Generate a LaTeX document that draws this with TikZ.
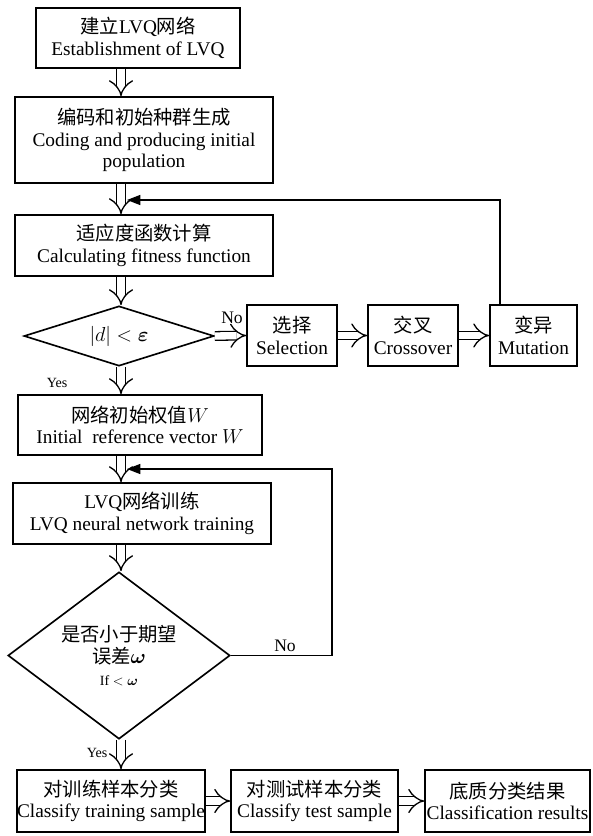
\documentclass[tikz,border=0pt]{standalone}
\usepackage{amsmath}
\usepackage{fontspec}
\setmainfont{Liberation Serif}
\newfontfamily\cjk{Noto Sans CJK SC}
\usetikzlibrary{arrows.meta}
\usetikzlibrary{shapes.geometric}

\newcommand{\zh}[1]{{\cjk #1}}
\tikzset{
  box/.style={draw, line width=1.4pt, inner sep=0pt, align=center,
    font=\fontsize{16.5}{18.5}\selectfont},
  cond/.style={diamond, draw, line width=1.4pt, inner sep=0pt, align=center,
    font=\fontsize{16.5}{19}\selectfont},
  dbl/.style={double, double distance=0.22cm, line width=1.1pt, -{Implies[scale=1.5]}},
  back/.style={line width=1.2pt, -{Triangle[length=0.4cm,width=0.3cm]}},
  lbl/.style={inner sep=0pt, font=\fontsize{15}{15}\selectfont},
  small/.style={inner sep=0pt, font=\fontsize{12}{12}\selectfont}
}

\begin{document}
\begin{tikzpicture}[x=0.03cm, y=-0.03cm]
      \useasboundingbox (0,0) rectangle (593,836);
      \coordinate (m) at (121,0);

      % main column
      \node[box, minimum width=6.12cm, minimum height=1.8cm] (b1) at (138,38)
        {\zh{建立}LVQ\zh{网络}\\Establishment of LVQ};
      \node[box, minimum width=7.74cm, minimum height=2.58cm] (b2) at (144,140)
        {\zh{编码和初始种群生成}\\Coding and producing initial\\population};
      \node[box, minimum width=7.74cm, minimum height=1.83cm] (b3) at (144,245.5)
        {\zh{适应度函数计算}\\Calculating fitness function};
      \node[cond, aspect=3, minimum width=5.7cm, minimum height=1.8cm] (d1) at (119,336)
        {$|d| < \boldsymbol{\varepsilon}$};
      \node[box, minimum width=7.32cm, minimum height=1.8cm] (b4) at (140,425)
        {\zh{网络初始权值}$W$\\Initial\ \ reference vector $W$};
      \node[box, minimum width=7.74cm, minimum height=1.83cm] (b5) at (142,513.5)
        {LVQ\zh{网络训练}\\LVQ neural network training};
      \node[cond, aspect=1.33, minimum width=6.66cm, minimum height=5.01cm] (d2) at (119,655.5)
        {\zh{是否小于期望}\\\zh{误差}$\boldsymbol{\omega}$\\{\fontsize{12}{12}\selectfont If $<\boldsymbol{\omega}$}};

      % GA row
      \node[box, minimum width=2.7cm, minimum height=1.83cm] (sel) at (292,335.5)
        {\zh{选择}\\Selection};
      \node[box, minimum width=2.7cm, minimum height=1.83cm] (cro) at (413,335.5)
        {\zh{交叉}\\Crossover};
      \node[box, minimum width=2.61cm, minimum height=1.83cm] (mut) at (533.5,335.5)
        {\zh{变异}\\Mutation};

      % bottom row
      \node[box, minimum width=5.46cm, minimum height=1.86cm] (cA) at (111,801)
        {\zh{对训练样本分类}\\Classify training sample};
      \node[box, minimum width=5.01cm, minimum height=1.86cm] (cB) at (314.5,801)
        {\zh{对测试样本分类}\\Classify test sample};
      \node[box, minimum width=4.95cm, minimum height=1.86cm] (cC) at (507.5,801)
        {\zh{底质分类结果}\\Classification results};

      \node[lbl] (no1) at (232,318) {No};
      \node[lbl] (no2) at (285,646) {No};
      \node[small] (yes1) at (57,383) {Yes};
      \node[small] (yes2) at (97,753) {Yes};

      \draw[dbl] (b1.south -| m) -- (b2.north -| m);
      \draw[dbl] (b2.south -| m) -- (b3.north -| m);
      \draw[dbl] (b3.south -| m) -- (d1.north -| m);
      \draw[dbl] (d1.south -| m) -- (b4.north -| m);
      \draw[dbl] (b4.south -| m) -- (b5.north -| m);
      \draw[dbl] (b5.south -| m) -- (d2.north -| m);
      \draw[dbl] (d2.south -| m) -- (cA.north -| m);

      \draw[dbl] (d1.east) -- (sel.west);
      \draw[dbl] (sel.east) -- (cro.west);
      \draw[dbl] (cro.east) -- (mut.west);
      \draw[dbl] (cA.east) -- (cB.west);
      \draw[dbl] (cB.east) -- (cC.west);

      % feedback loops
      \coordinate (u1) at (500,200);
      \coordinate (f1) at (127,200);
      \draw[back] (u1 |- mut.north) -- (u1) -- (f1);
      \coordinate (u2) at (332,469);
      \coordinate (f2) at (127,469);
      \draw[back] (d2.east) -| (u2) -- (f2);
\end{tikzpicture}
\end{document}
